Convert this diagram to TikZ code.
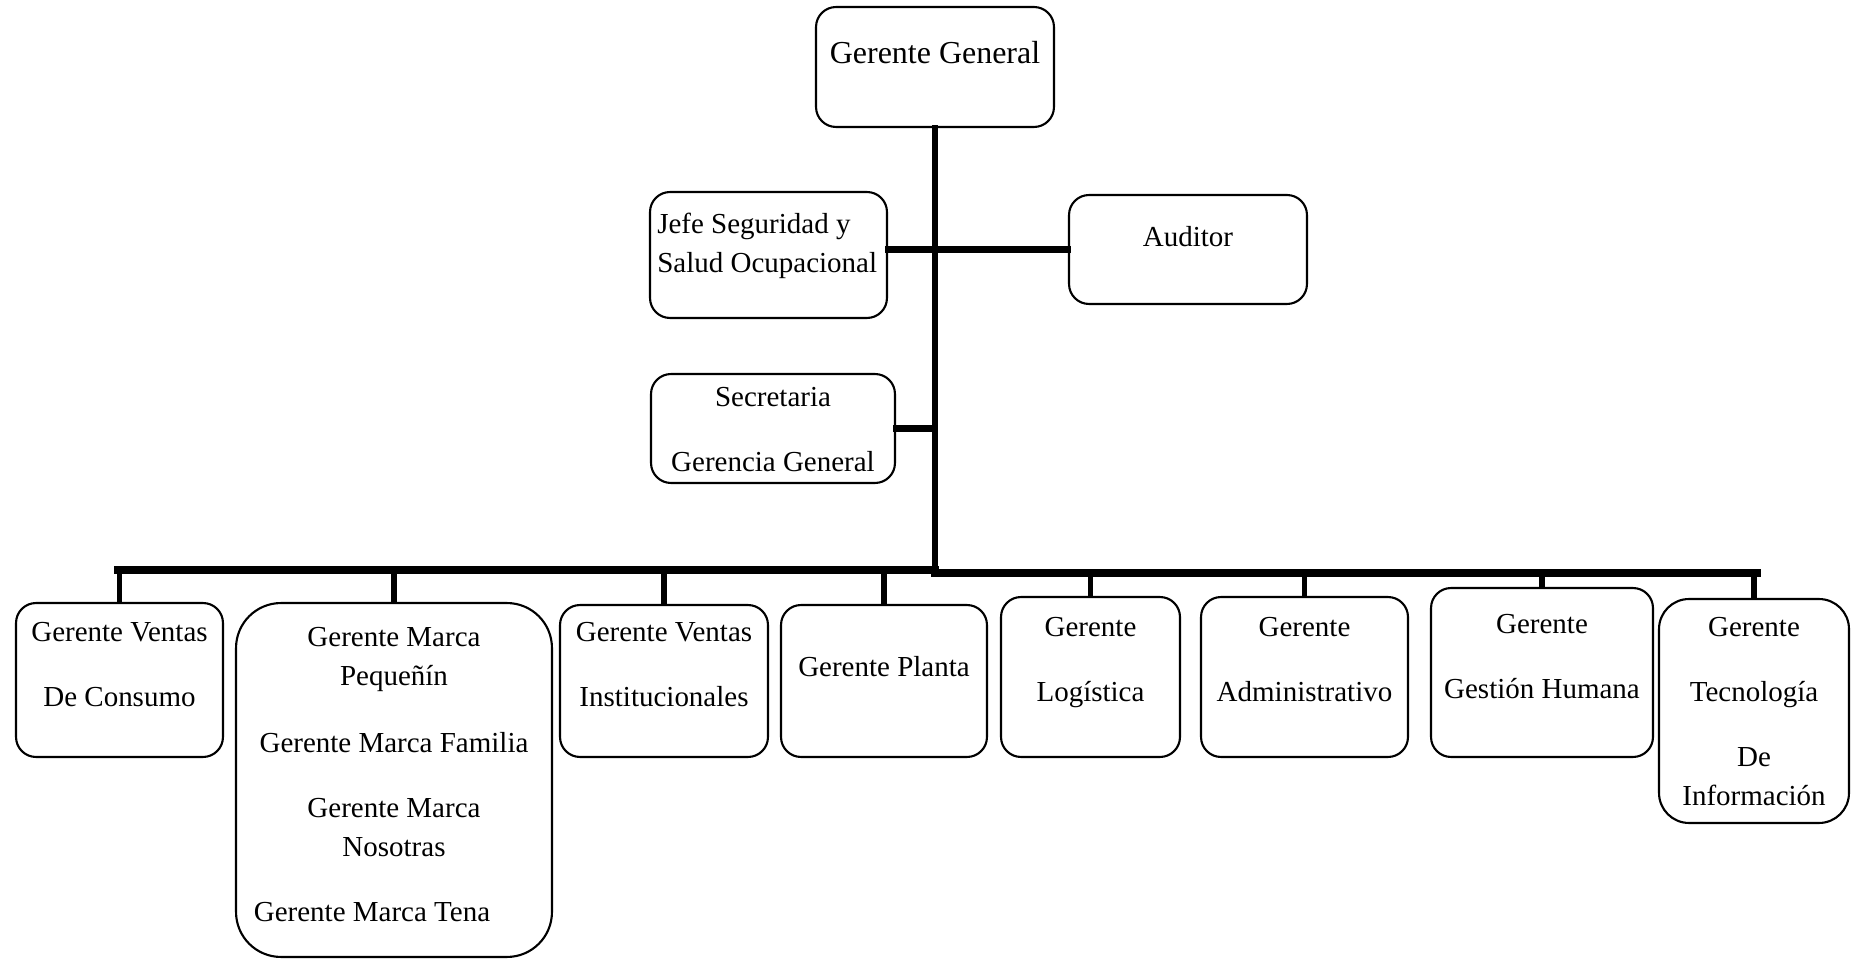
\documentclass[tikz,border=0pt]{standalone}
\usepackage{fontspec}
\setmainfont{Liberation Serif}
\usetikzlibrary{calc}

\tikzset{
  box/.style={draw, line width=1.2pt, rounded corners=0.4cm, inner sep=0pt},
  txt/.style={font=\fontsize{16.5pt}{22.2pt}\selectfont, align=center, inner sep=0pt, anchor=north},
  trunk/.style={line width=3.9pt, line cap=rect},
  bar/.style={line width=4pt, line cap=rect},
  drop/.style={line width=3.1pt}
}

\begin{document}
\begin{tikzpicture}[x=0.02cm, y=-0.02cm]
\useasboundingbox (0,0) rectangle (1853,959);

% Top boxes
\node[box, minimum width=4.76cm, minimum height=2.40cm] (gg) at (935,67) {};
\node[box, minimum width=4.74cm, minimum height=2.52cm] (jefe) at (768.5,255) {};
\node[box, minimum width=4.76cm, minimum height=2.18cm] (auditor) at (1188,249.5) {};
\node[box, minimum width=4.88cm, minimum height=2.18cm] (secre) at (773,428.5) {};

% Bottom boxes
\node[box, minimum width=4.14cm, minimum height=3.08cm] (ventas) at (119.5,680) {};
\node[box, rounded corners=0.9cm, minimum width=6.32cm, minimum height=7.08cm] (marca) at (394,780) {};
\node[box, minimum width=4.16cm, minimum height=3.04cm] (instit) at (664,681) {};
\node[box, minimum width=4.12cm, minimum height=3.04cm] (planta) at (884,681) {};
\node[box, minimum width=3.58cm, minimum height=3.20cm] (logis) at (1090.5,677) {};
\node[box, minimum width=4.14cm, minimum height=3.20cm] (admin) at (1304.5,677) {};
\node[box, minimum width=4.44cm, minimum height=3.38cm] (humana) at (1542,672.5) {};
\node[box, rounded corners=0.6cm, minimum width=3.80cm, minimum height=4.48cm] (tecno) at (1754,711) {};

% Texts
\node[txt, font=\fontsize{18.2pt}{22.2pt}\selectfont] (ggtxt) at ($(gg.north)+(0,35)$) {Gerente General};
\node[txt, anchor=north west, align=left] (jefetxt) at ($(jefe.north west)+(8,22)$) {Jefe Seguridad y\\Salud Ocupacional};
\node[txt] (audtxt) at ($(auditor.north)+(0,32)$) {Auditor};
\node[txt] (secretxt) at ($(secre.north)+(0,14)$) {Secretaria\\[0.52cm]Gerencia General};

\node[txt] (ventastxt) at ($(ventas.north)+(0,20)$) {Gerente Ventas\\[0.52cm]De Consumo};
\node[txt] (marcatxt) at ($(marca.north)+(0,25)$) {Gerente Marca\\Pequeñín\\[0.56cm]Gerente Marca Familia\\[0.52cm]Gerente Marca\\Nosotras\\[0.52cm]Gerente Marca Tena\hspace*{0.88cm}};
\node[txt] (instittxt) at ($(instit.north)+(0,18)$) {Gerente Ventas\\[0.52cm]Institucionales};
\node[txt] (plantatxt) at ($(planta.north)+(0,52)$) {Gerente Planta};
\node[txt] (logistxt) at ($(logis.north)+(0,21)$) {Gerente\\[0.52cm]Logística};
\node[txt] (admintxt) at ($(admin.north)+(0,21)$) {Gerente\\[0.52cm]Administrativo};
\node[txt] (humanatxt) at ($(humana.north)+(0,27)$) {Gerente\\[0.52cm]Gestión Humana};
\node[txt] (tecnotxt) at ($(tecno.north)+(0,19)$) {Gerente\\[0.52cm]Tecnología\\[0.52cm]De\\Información};

% Bar ends
\coordinate (barL) at (118,570);
\coordinate (barR) at (1757,573);

% Draw trunk and side links
\draw[trunk] (gg.south) -- (gg.south |- barR);
\draw[trunk] (jefe.east |- auditor.west) -- (auditor.west);
\draw[trunk] (secre.east) -- (secre.east -| gg.south);

% Draw bar
\draw[bar] (barL) -- (barL -| gg.south);
\draw[bar] (barR -| gg.south) -- (barR);

% Draw drops
\draw[drop] (ventas.north) -- (ventas.north |- barL);
\draw[drop] (marca.north) -- (marca.north |- barL);
\draw[drop] (instit.north) -- (instit.north |- barL);
\draw[drop] (planta.north) -- (planta.north |- barL);
\draw[drop] (logis.north) -- (logis.north |- barR);
\draw[drop] (admin.north) -- (admin.north |- barR);
\draw[drop] (humana.north) -- (humana.north |- barR);
\draw[drop] (tecno.north) -- (tecno.north |- barR);

\end{tikzpicture}
\end{document}
